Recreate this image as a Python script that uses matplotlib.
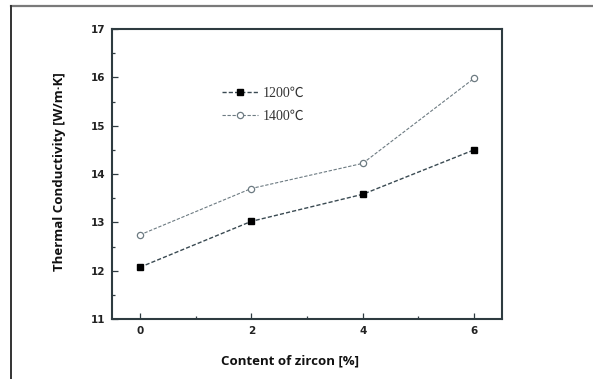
import numpy as np
import matplotlib.pyplot as plt
from matplotlib.lines import Line2D

# thermal conductivity vs zircon content
zircon = [0, 2, 4, 6]
k_1200 = [12.07, 13.02, 13.58, 14.50]
k_1400 = [12.74, 13.70, 14.22, 15.98]
xticks = [0, 2, 4, 6]
yticks = [11, 12, 13, 14, 15, 16, 17]

W, H = 593, 379
fig = plt.figure(figsize=(W / 100, H / 100), dpi=100)
fig.patch.set_facecolor('white')

# page frame: top rule and left rule
fig.add_artist(Line2D([11 / W, 592 / W], [1 - 5.5 / H, 1 - 5.5 / H],
                      color='#7a7a7a', lw=1.6, transform=fig.transFigure))
fig.add_artist(Line2D([11 / W, 11 / W], [1 - 5.5 / H, 0],
                      color='#333333', lw=1.4, transform=fig.transFigure))

ax = fig.add_axes([112 / W, 1 - 319 / H, 390 / W, 290 / H])
spine_col = '#2e3b40'
line_col = '#3a4a52'

ax.plot(zircon, k_1200, ls=(0, (3, 1.5)), lw=1.0, color=line_col,
        marker='s', ms=5, mfc='black', mec='black', label='1200\u2103')
ax.plot(zircon, k_1400, ls=(0, (3, 1.5)), lw=0.8, color='#6d7b82',
        marker='o', ms=4.5, mfc='white', mec='#6d7b82', mew=0.9, label='1400\u2103')

ax.set_xlim(-0.5, 6.5)
ax.set_ylim(11, 17)
ax.set_xticks(xticks)
ax.set_yticks(yticks)
ax.set_xticks([1, 3, 5], minor=True)
ax.set_yticks(np.arange(11.5, 17, 1), minor=True)
ax.tick_params(which='both', direction='in', color=spine_col, width=0.9)
ax.tick_params(which='major', length=4, labelsize=7.5, pad=5)
ax.tick_params(which='minor', length=2)
for lab in ax.get_xticklabels() + ax.get_yticklabels():
    lab.set_fontweight('bold')
    lab.set_color('#222222')
for s in ax.spines.values():
    s.set_color(spine_col)
    s.set_linewidth(1.5)

leg = ax.legend(loc='upper left', bbox_to_anchor=(0.25, 0.845), frameon=False,
                prop={'family': ['Liberation Serif', 'Noto Sans CJK SC', 'DejaVu Sans'],
                      'size': 10},
                handlelength=2.6, handletextpad=0.3, labelspacing=0.75)
for t in leg.get_texts():
    t.set_color('#333333')

fig.text(60 / W, 1 - 172 / H, 'Thermal Conductivity [W/m\u00b7K]', rotation=90,
         ha='center', va='center', fontsize=9.5, fontweight='bold',
         family='Open Sans', color='#111111')
fig.text(290 / W, 1 - 361 / H, 'Content of zircon [%]', ha='center', va='center',
         fontsize=9.5, fontweight='bold', family='Open Sans', color='#111111')

fig.savefig('out.png', dpi=100, facecolor='white')
